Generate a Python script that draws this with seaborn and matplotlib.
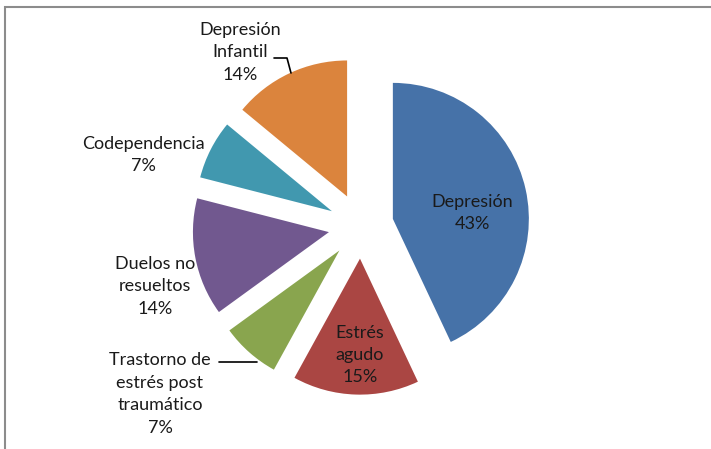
import numpy as np
import seaborn as sns
import matplotlib.pyplot as plt
from matplotlib.patches import Rectangle

# data (clockwise from 12 o'clock)
categories = ["Depresión", "Estrés\nagudo", "Trastorno de\nestrés post\ntraumático",
              "Duelos no\nresueltos", "Codependencia", "Depresión\nInfantil"]
percents = [43, 15, 7, 14, 7, 14]
colors = ["#4672A8", "#AA4643", "#89A54E", "#71588F", "#4198AF", "#DB843D"]

sns.set_theme(style="white")
plt.rcParams["font.family"] = ["Lato", "DejaVu Sans"]

W, H = 711, 449
fig = plt.figure(figsize=(W / 100, H / 100), dpi=100)
fig.patch.set_facecolor("white")

# pie geometry in pixels
cx, cy, R = 361, 226, 136
ax = fig.add_axes([0, 0, 1, 1])
ax.pie(percents, colors=sns.color_palette(colors), startangle=90, counterclock=False,
       explode=[0.24] * len(percents), radius=1,
       wedgeprops=dict(linewidth=0))
ax.set_xlim(-cx / R, (W - cx) / R)
ax.set_ylim(-(H - cy) / R, cy / R)
ax.set_aspect("auto")
ax.axis("off")


def px(x, y):
    return ((x - cx) / R, (cy - y) / R)


# label positions (pixel layout)
label_pos = [(472, 213), (360, 355), (160, 394), (155, 286), (143, 155), (240, 52)]
for name, p, pos in zip(categories, percents, label_pos):
    ax.text(*px(*pos), f"{name}\n{p}%", ha="center", va="center",
            fontsize=13, color="#1a1a1a", linespacing=1.5)

# leader lines
ax.plot(*zip(px(274, 58), px(287, 58), px(291, 73)), color="black", lw=1.2)
ax.plot(*zip(px(219, 362), px(257, 362)), color="black", lw=1.2)

# chart frame
fig.patches.append(Rectangle((5 / W, -0.1), 1.2, (H - 7) / H + 0.1,
                             transform=fig.transFigure, fill=False,
                             edgecolor="#8c8c8c", lw=1.5))

fig.savefig("out.png", dpi=100)
